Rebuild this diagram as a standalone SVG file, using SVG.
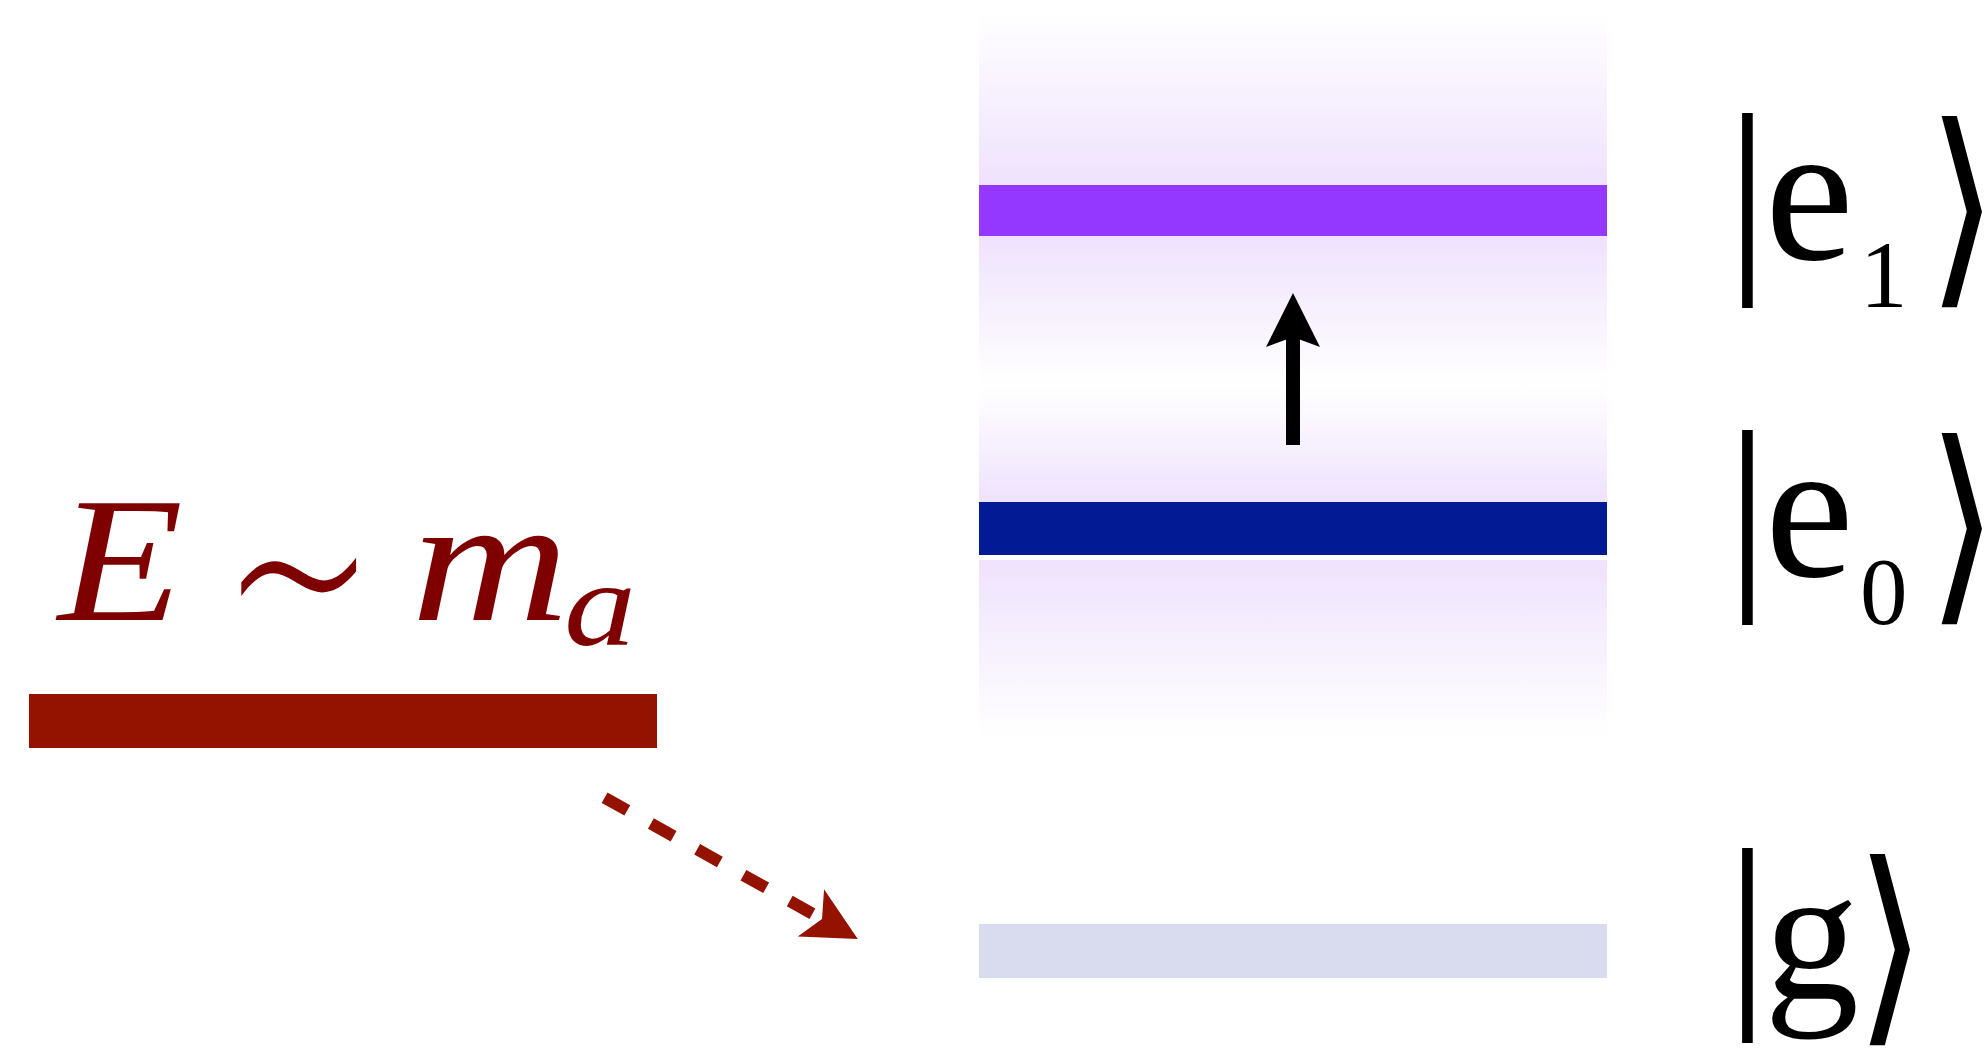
<svg xmlns="http://www.w3.org/2000/svg" width="1987" height="1050" viewBox="0 0 1987 1050">
  <style>
    .glowT { fill: url(#glowUp); }
    .glowM { fill: url(#glowMid); }
    .glowB { fill: url(#glowDown); }
    .rm { font-family: "Liberation Serif", "DejaVu Serif", serif; fill: #000; }
    .delim { font-family: "Liberation Serif", "DejaVu Serif", serif; fill: #000; }
    .ang { font-family: "DejaVu Sans", "Noto Sans", sans-serif; fill: #000; }
    .mi { font-family: "Liberation Serif", "DejaVu Serif", serif; font-style: italic; fill: #7f0000; }
    .sym { font-family: "DejaVu Sans", "DejaVu Serif", sans-serif; font-weight: 200; fill: #7f0000; }
  </style>
  <defs>
    <linearGradient id="glowUp" x1="0" y1="0" x2="0" y2="1">
      <stop offset="0" stop-color="#ffffff"/>
      <stop offset="1" stop-color="#efe2fd"/>
    </linearGradient>
    <linearGradient id="glowMid" x1="0" y1="0" x2="0" y2="1">
      <stop offset="0" stop-color="#efe2fd"/>
      <stop offset="0.56" stop-color="#ffffff"/>
      <stop offset="1" stop-color="#efe2fd"/>
    </linearGradient>
    <linearGradient id="glowDown" x1="0" y1="0" x2="0" y2="1">
      <stop offset="0" stop-color="#efe2fd"/>
      <stop offset="1" stop-color="#ffffff"/>
    </linearGradient>
    <marker id="headBlack" markerUnits="userSpaceOnUse" viewBox="-15 -30 62 60" markerWidth="62" markerHeight="60" refX="0" refY="0" orient="auto" overflow="visible">
      <path d="M44,0 L-10,27 L0,0 L-10,-27 Z" fill="#000"/>
    </marker>
    <marker id="headRed" markerUnits="userSpaceOnUse" viewBox="-15 -30 62 60" markerWidth="62" markerHeight="60" refX="0" refY="0" orient="auto" overflow="visible">
      <path d="M41,0 L-12.7,27 L0,0 L-12.7,-27 Z" fill="#931300"/>
    </marker>
  </defs>

  <rect x="0" y="0" width="1987" height="1050" fill="#ffffff"/>

  <g id="glow">
    <rect class="glowT" x="979" y="10" width="628" height="175"/>
    <rect class="glowM" x="979" y="236" width="628" height="266"/>
    <rect class="glowB" x="979" y="560" width="628" height="177"/>
  </g>

  <g id="level-e1">
    <rect x="979" y="185" width="628" height="51" fill="#9437ff"/>
  </g>
  <g id="level-e0">
    <rect x="979" y="502" width="628" height="53" fill="#021a93"/>
  </g>
  <g id="level-g">
    <rect x="979" y="924" width="628" height="54" fill="#d9dcef"/>
  </g>
  <g id="level-axion">
    <rect x="29" y="694" width="628" height="54" fill="#931300"/>
  </g>

  <g id="label-energy">
    <text class="mi" font-size="178" x="0" y="0" transform="translate(58,620) scale(1.15,1)">E</text>
    <text class="sym" font-size="171" x="0" y="59" transform="translate(222,578) scale(1.41,1.7)">∼</text>
    <text class="mi" font-size="178" x="0" y="0" transform="translate(411,620) scale(1.23,1)">m</text>
    <text class="mi" font-size="120" x="0" y="0" transform="translate(564,645) scale(1.2,1)">a</text>
  </g>

  <g id="ket-e1">
    <text class="delim" font-size="214" x="1726" y="262">|</text>
    <text class="rm" font-size="200" x="1765" y="259">e</text>
    <text class="rm" font-size="95" x="1860" y="307">1</text>
    <text class="ang" font-size="215" x="0" y="0" transform="translate(1927,279) scale(0.85,1)">⟩</text>
  </g>
  <g id="ket-e0">
    <text class="delim" font-size="214" x="1726" y="579">|</text>
    <text class="rm" font-size="200" x="1765" y="576">e</text>
    <text class="rm" font-size="95" x="1860" y="624">0</text>
    <text class="ang" font-size="215" x="0" y="0" transform="translate(1927,596) scale(0.85,1)">⟩</text>
  </g>
  <g id="ket-g">
    <text class="delim" font-size="214" x="1726" y="997">|</text>
    <text class="rm" font-size="190" x="1764" y="998">g</text>
    <text class="ang" font-size="215" x="0" y="0" transform="translate(1855,1017) scale(0.85,1)">⟩</text>
  </g>

  <g id="connectors">
    <path id="excitation" d="M1293,445 L1293,337" stroke="#000" stroke-width="14" fill="none" marker-end="url(#headBlack)"/>
    <path id="absorption" d="M604.6,797.7 L822,919" stroke="#931300" stroke-width="12" stroke-dasharray="26 27" fill="none" marker-end="url(#headRed)"/>
  </g>
</svg>
